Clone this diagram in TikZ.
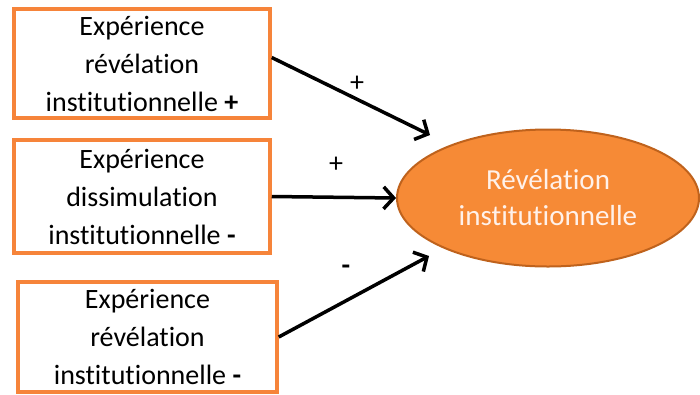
\documentclass[tikz,border=0pt]{standalone}
\usepackage{fontspec}
\setmainfont[Ligatures=NoCommon]{Carlito}
\usepackage{xcolor}
\usepackage{tikz}
\usetikzlibrary{shapes.geometric,arrows.meta}
\definecolor{boxColor}{HTML}{F6843A}
\definecolor{ovalColor}{HTML}{F68A36}
\definecolor{ovalLineColor}{HTML}{BF621C}
\definecolor{ovalTextColor}{HTML}{FFF1EA}

\tikzset{
	expbox/.style={draw=boxColor, line width=3.5pt, fill=white, align=center, inner sep=0pt, font=\fontsize{28}{38}\selectfont},
	revoval/.style={ellipse, draw=ovalLineColor, line width=2pt, fill=ovalColor, text=ovalTextColor, align=center, inner sep=0pt, minimum width=302pt, minimum height=137pt, font=\fontsize{29}{36}\selectfont},
	link/.style={line width=3.5pt, -{Straight Barb[length=10pt,width=22pt,line width=3.5pt]}},
	sign/.style={font=\fontsize{28}{28}\selectfont}
}

\begin{document}
\begin{tikzpicture}[x=1pt,y=-1pt]
	\useasboundingbox (0,0) rectangle (700,394);
	\node[expbox, minimum width=256pt, minimum height=109pt] (box1) at (142,63.5) {Expérience\\révélation\\institutionnelle \textbf{+}};
	\node[expbox, minimum width=256pt, minimum height=113pt] (box2) at (142,196.5) {Expérience\\dissimulation\\institutionnelle \textbf{-}};
	\node[expbox, minimum width=259pt, minimum height=110pt] (box3) at (147.5,337) {Expérience\\révélation\\institutionnelle \textbf{-}};
	\node[revoval] (oval) at (548,198) {Révélation\\institutionnelle};
	\coordinate (in1) at (430,135);
	\coordinate (in3) at (429,256);
	\draw[link] ([yshift=6pt]box1.east) -- (in1);
	\draw[link] (box2.east) -- (oval.west);
	\draw[link] (box3.east) -- (in3);
	\node[sign] (plus1) at (357,84) {+};
	\node[sign] (plus2) at (336,165) {+};
	\node[sign] (minus3) at (346,270) {\textbf{-}};
\end{tikzpicture}
\end{document}
